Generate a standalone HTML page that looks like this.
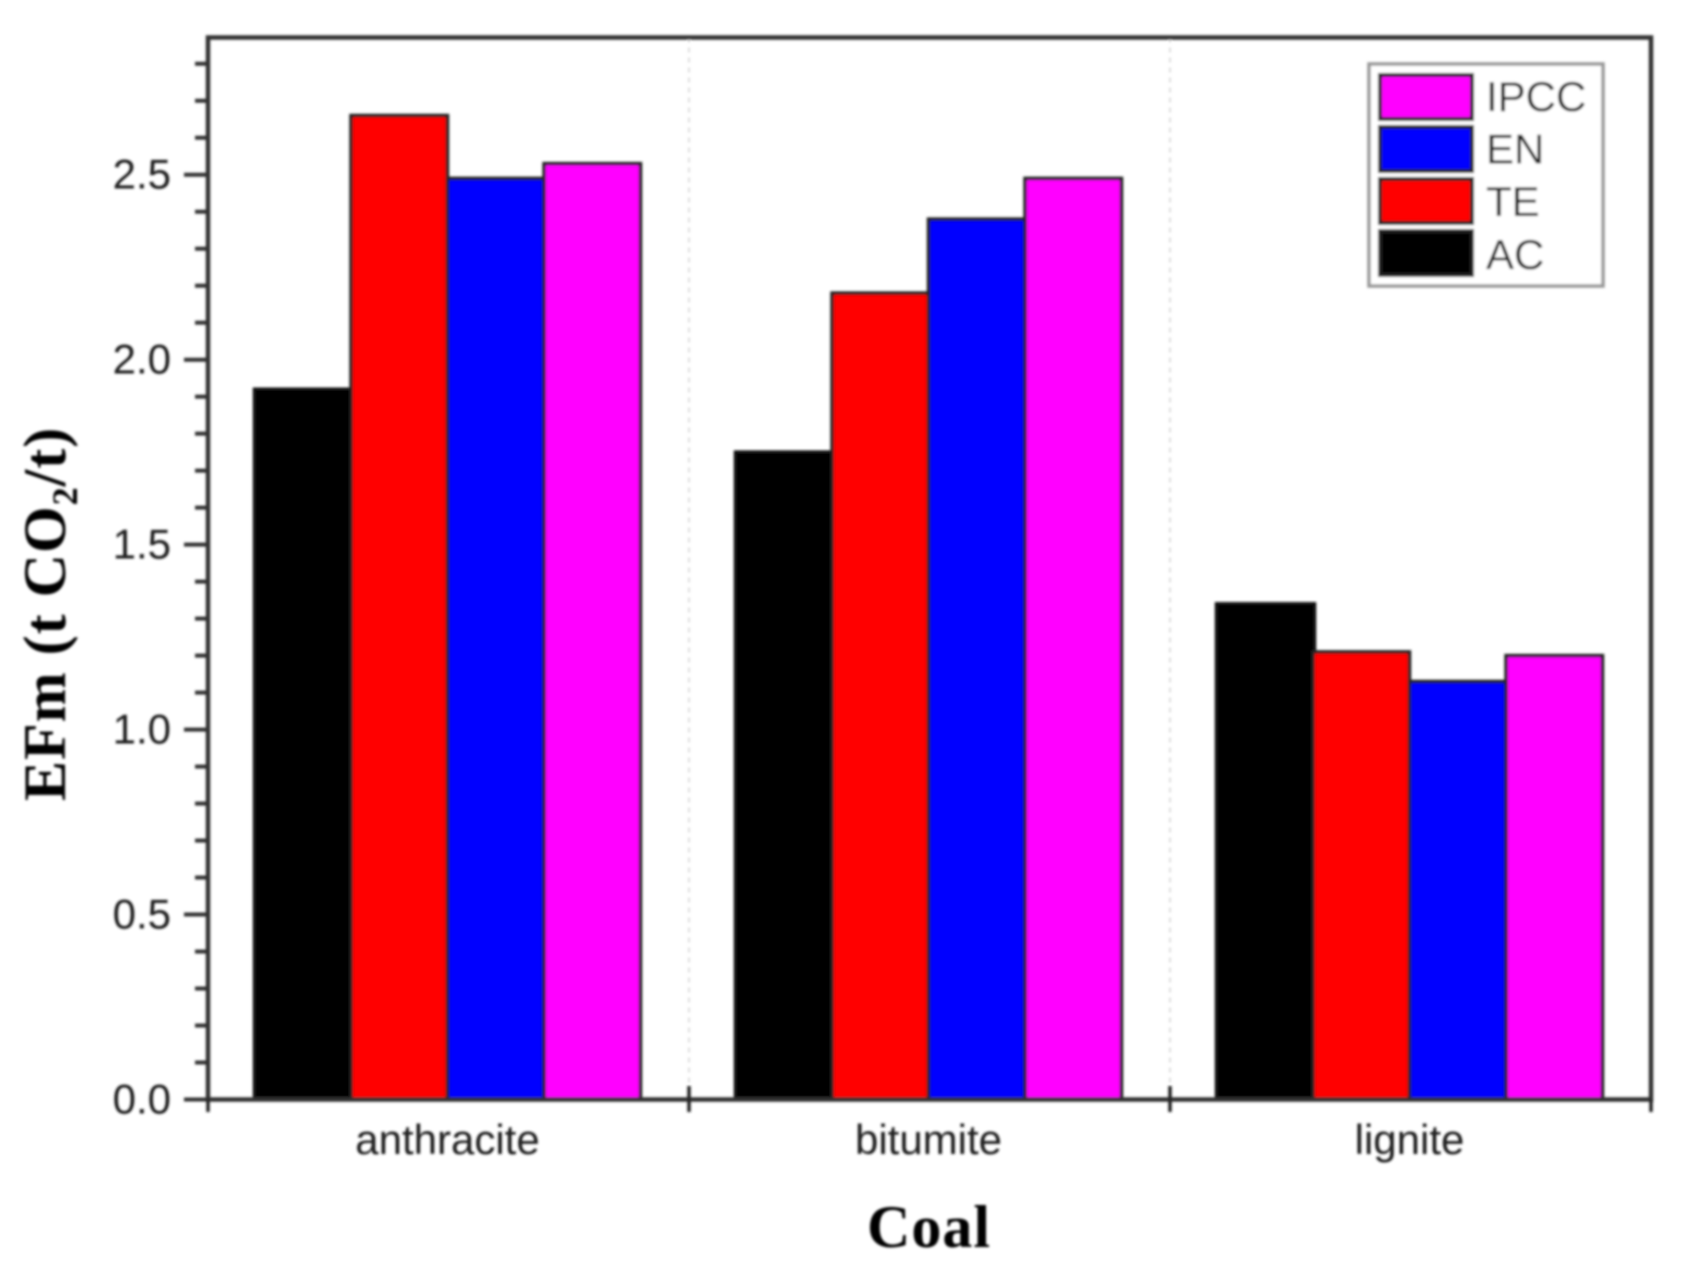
<!DOCTYPE html>
<html>
<head>
<meta charset="utf-8">
<title>EFm by coal type</title>
<style>
  html, body { margin: 0; padding: 0; background: #fff; }
  svg { display: block; }
  text { fill: #1a1a1a; }
  .tick-text { font-family: "Liberation Sans", sans-serif; font-size: 42px; }
  .title-text { font-family: "Liberation Serif", serif; font-size: 60px; font-weight: bold; fill: #000; letter-spacing: 1px; }
</style>
</head>
<body>
<svg id="chart" xmlns="http://www.w3.org/2000/svg" width="1682" height="1279" viewBox="0 0 1682 1279">
  <defs>
    <filter id="soft" x="-2%" y="-2%" width="104%" height="104%">
      <feGaussianBlur stdDeviation="1.2"></feGaussianBlur>
    </filter>
  </defs>
  <rect x="0" y="0" width="1682" height="1279" fill="#ffffff"></rect>
  <g id="plot" filter="url(#soft)">
    <g id="grid"></g>
    <g id="bars"></g>
    <g id="axes"></g>
    <g id="legend"></g>
    <text class="title-text" transform="translate(65 801) rotate(-90)">EFm (t CO<tspan dy="12" font-size="36">2</tspan><tspan dy="-12">/t)</tspan></text>
    <text class="title-text" x="929" y="1247" text-anchor="middle">Coal</text>
  </g>
</svg>
<script>
var categories = ["anthracite", "bitumite", "lignite"];
var seriesNames = ["AC", "TE", "EN", "IPCC"];
var seriesAC = [1.92, 1.75, 1.34];
var seriesTE = [2.66, 2.18, 1.21];
var seriesEN = [2.49, 2.38, 1.13];
var seriesIPCC = [2.53, 2.49, 1.20];
var seriesColors = ["#000000", "#ff0000", "#0000ff", "#ff00ff"];
var yMajorTicks = [0, 0.5, 1, 1.5, 2, 2.5];
var yMajorLabels = ["0.0", "0.5", "1.0", "1.5", "2.0", "2.5"];
var yMinorTicks = [0.1, 0.2, 0.3, 0.4, 0.6, 0.7, 0.8, 0.9, 1.1, 1.2, 1.3, 1.4, 1.6, 1.7, 1.8, 1.9, 2.1, 2.2, 2.3, 2.4, 2.6, 2.7, 2.8];
var legendOrder = ["IPCC", "EN", "TE", "AC"];
var yDomain = [0, 2.871];

var NS = "http://www.w3.org/2000/svg";
var plotLeft = 208, plotRight = 1651, plotTop = 37.5, plotBottom = 1099.5;
var catWidth = (plotRight - plotLeft) / categories.length;
var groupWidth = 386;
var groupInset = 46.5;
var allSeries = [seriesAC, seriesTE, seriesEN, seriesIPCC];

function yScale(v) {
  return plotBottom - (v - yDomain[0]) / (yDomain[1] - yDomain[0]) * (plotBottom - plotTop);
}
function catStart(i) {
  return plotLeft + i * catWidth;
}
function barX(c, s) {
  return catStart(c) + groupInset + s * groupWidth / seriesNames.length;
}
function make(parent, tag, attrs) {
  var el = document.createElementNS(NS, tag);
  for (var k in attrs) { el.setAttribute(k, attrs[k]); }
  parent.appendChild(el);
  return el;
}

var gridG = document.getElementById("grid");
var barsG = document.getElementById("bars");
var axesG = document.getElementById("axes");
var legendG = document.getElementById("legend");

for (var g = 1; g < categories.length; g++) {
  var gl = make(gridG, "line", { x1: catStart(g), x2: catStart(g), y1: plotTop, y2: plotBottom, stroke: "#dcdcdc", "stroke-width": 2, "stroke-dasharray": "5 5" });
  
  
}

allSeries.forEach(function (values, s) {
  values.forEach(function (v, c) {
    var r = make(barsG, "rect", {
      x: barX(c, s),
      y: yScale(v),
      width: groupWidth / seriesNames.length + (s === 0 ? 1.5 : 0),
      height: yScale(0) - yScale(v),
      fill: seriesColors[s],
      stroke: s === 0 ? "#111111" : "#222222",
      "stroke-width": 3.5
    });
    
    
  });
});

var frame = make(axesG, "rect", { x: plotLeft, y: plotTop, width: plotRight - plotLeft, height: plotBottom - plotTop, fill: "none", stroke: "#333333", "stroke-width": 4.5 });



yMajorTicks.forEach(function (v, i) {
  var t = make(axesG, "line", { x1: 184, x2: plotLeft, y1: yScale(v), y2: yScale(v), stroke: "#333", "stroke-width": 4 });
  
  
  var lab = make(axesG, "text", { x: 171, y: yScale(v) + 14, "text-anchor": "end", "class": "tick-text" });
  
  
  lab.textContent = yMajorLabels[i];
});

yMinorTicks.forEach(function (v) {
  var t = make(axesG, "line", { x1: 195, x2: plotLeft, y1: yScale(v), y2: yScale(v), stroke: "#333", "stroke-width": 4 });
  
  
});

for (var x = 0; x <= categories.length; x++) {
  var xt = make(axesG, "line", { x1: catStart(x), x2: catStart(x), y1: (x === 0 || x === categories.length) ? plotBottom : 1086, y2: 1112, stroke: "#222", "stroke-width": 3.5 });
  
  
}

categories.forEach(function (name, c) {
  var lab = make(axesG, "text", { x: catStart(c) + catWidth / 2 - 1, y: 1154, "text-anchor": "middle", "class": "tick-text" });
  
  
  lab.textContent = name;
});

var legendBox = make(legendG, "rect", { x: 1369, y: 64, width: 234, height: 222, fill: "#ffffff", stroke: "#999999", "stroke-width": 3.5 });



var legendRowH = 52;
legendOrder.forEach(function (name, i) {
  var idx = seriesNames.indexOf(name);
  var swatch = make(legendG, "rect", { x: 1380, y: 75 + i * legendRowH, width: 92, height: 44, fill: seriesColors[idx], stroke: "#222", "stroke-width": 4 });
  
  
  var label = make(legendG, "text", { x: 1486, y: 111 + i * 52.6, "class": "tick-text" });
  
  
  label.textContent = name;
});
</script>
</body>
</html>
